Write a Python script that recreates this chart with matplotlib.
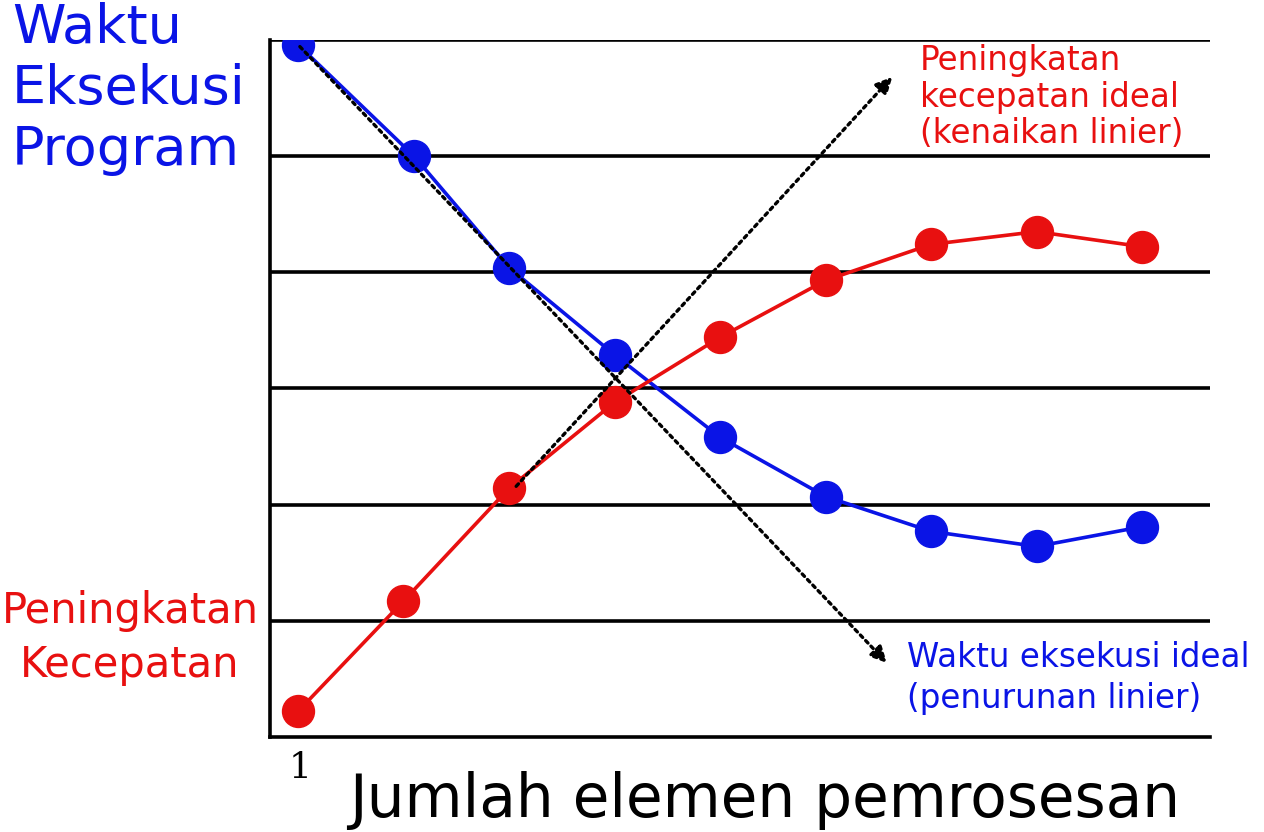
import matplotlib.pyplot as plt

# x positions (processor index) and values in grid units (gridlines at 0..6)
blue_x = [1, 2.1, 3, 4, 5, 6, 7, 8, 9]
blue_y = [5.96, 5.0, 4.04, 3.29, 2.58, 2.07, 1.77, 1.64, 1.81]
red_x = [1, 2, 3, 4, 5, 6, 7, 8, 9]
red_y = [0.22, 1.17, 2.14, 2.88, 3.44, 3.93, 4.24, 4.35, 4.22]
grid_levels = [1, 2, 3, 4, 5, 6]

ideal_down = [(1, 5.96), (6.6, 0.62)]
ideal_up = [(3.05, 2.14), (6.65, 5.7)]

fig = plt.figure(figsize=(12.64, 8.32), dpi=100)
ax = fig.add_axes([0.2136, 0.1142, 0.957 - 0.2136, 0.952 - 0.1142])
ax.set_xlim(0.735, 9.64)
ax.set_ylim(0, 6)

for g in grid_levels:
    ax.axhline(g, color="black", lw=2.6, zorder=1)

for s in ["top", "right"]:
    ax.spines[s].set_visible(False)
for s in ["left", "bottom"]:
    ax.spines[s].set_linewidth(2.6)
ax.set_xticks([])
ax.set_yticks([])

ax.plot(blue_x, blue_y, "-o", color="#0a14e6", lw=2.6, markersize=23, zorder=3)
ax.plot(red_x, red_y, "-o", color="#e81010", lw=2.6, markersize=23, zorder=3)

for (x0, y0), (x1, y1) in [ideal_down, ideal_up]:
    ax.annotate("", xy=(x1, y1), xytext=(x0, y0),
                arrowprops=dict(arrowstyle="-|>", linestyle=(0, (1, 1.3)),
                                lw=2.4, color="black", mutation_scale=24),
                zorder=4)

fig.text(12 / 1264, 1 - 2 / 832, "Waktu\nEksekusi\nProgram", color="#0a14e6",
         fontsize=39, va="top", ha="left", linespacing=1.22)
fig.text(130 / 1264, 1 - 638 / 832, "Peningkatan\nKecepatan", color="#e81010",
         fontsize=30, va="center", ha="center", linespacing=1.35)
fig.text(920 / 1264, 1 - 97 / 832,
         "Peningkatan\nkecepatan ideal\n(kenaikan linier)", color="#e81010",
         fontsize=23.5, va="center", ha="left", linespacing=1.12)
fig.text(907 / 1264, 1 - 678 / 832,
         "Waktu eksekusi ideal\n(penurunan linier)", color="#0a14e6",
         fontsize=23.5, va="center", ha="left", linespacing=1.3)
fig.text(300 / 1264, 1 - 768 / 832, "1", fontsize=26, ha="center", va="center",
         family="DejaVu Serif")
fig.text(765 / 1264, 1 - 800 / 832, "Jumlah elemen pemrosesan", fontsize=43,
         ha="center", va="center")

fig.savefig("out.png", dpi=100)
